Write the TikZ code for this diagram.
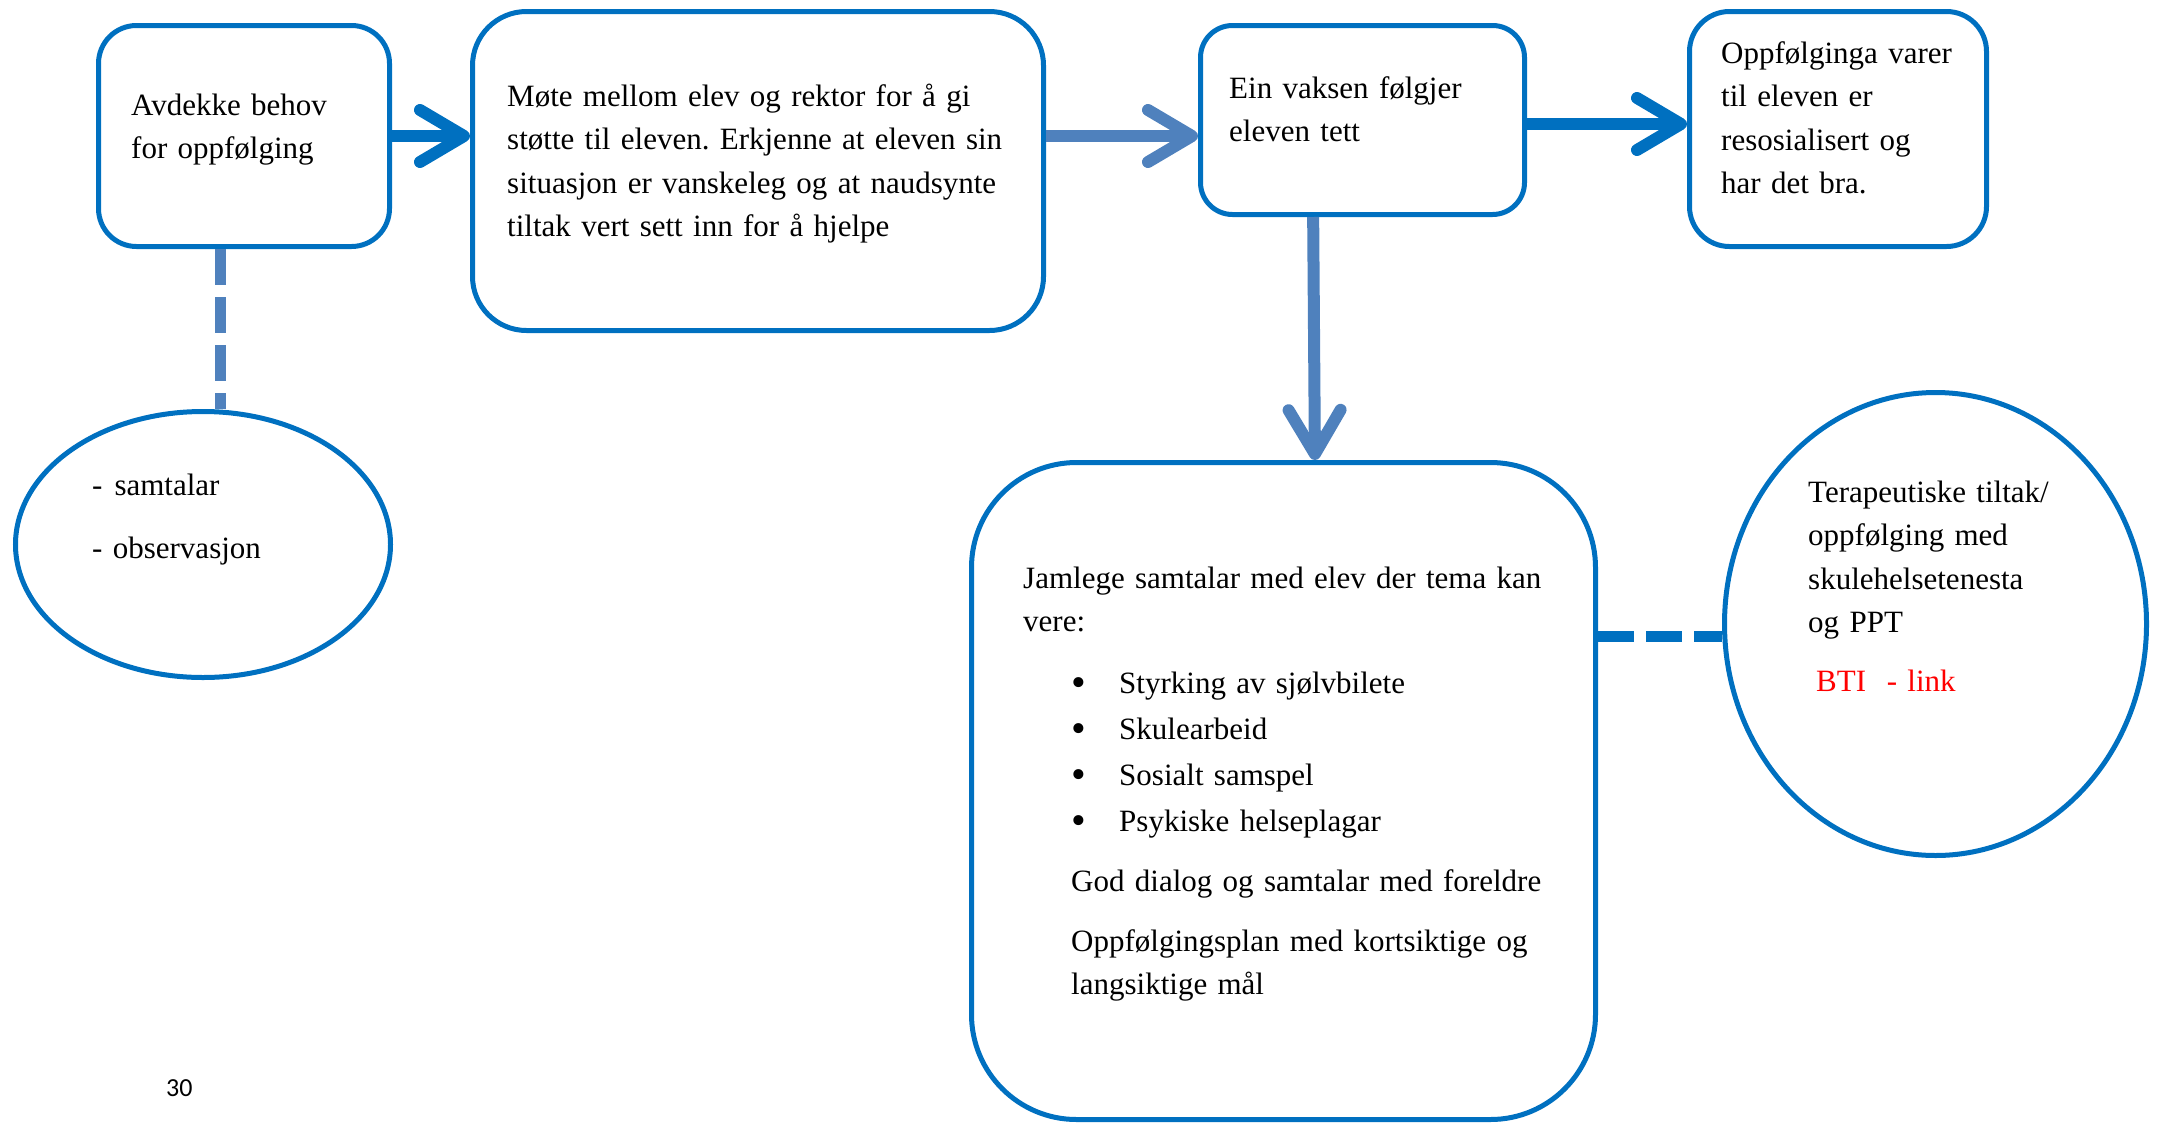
\documentclass[tikz,border=0pt]{standalone}
\usepackage{fontspec}
\setmainfont{Liberation Serif}
\newfontfamily\pagenofont{Carlito}
\usetikzlibrary{calc,shapes,arrows.meta}
\frenchspacing

\definecolor{darkblue}{HTML}{0070C0}
\definecolor{lightblue}{HTML}{4F81BD}

\newcommand{\topicbullet}{\makebox[48pt][l]{\raisebox{-3pt}{\fontsize{42}{42}\selectfont\textbullet}}}

\tikzset{
  box/.style={draw=darkblue, line width=5pt, rounded corners=#1},
  oval/.style={draw=darkblue, line width=5pt, ellipse},
  txt/.style={anchor=base west, inner sep=0pt, align=left, text width=#1,
    font=\fontsize{31}{43.5}\selectfont},
  chev/.style={line width=12pt, -{Straight Barb[length=44pt,width=52pt,round]}},
  dashline/.style={line width=11pt, dash pattern=on 36pt off 12pt}
}

\begin{document}
\begin{tikzpicture}[x=1pt,y=-1pt]
        \useasboundingbox (0,0) rectangle (2157,1122);
        % boxes
        \node[box=38pt, minimum width=291pt, minimum height=221pt] (need) at (244,136) {};
        \node[box=54pt, minimum width=571pt, minimum height=319pt] (meet) at (758,171) {};
        \node[box=32pt, minimum width=324pt, minimum height=189pt] (follow) at (1362.5,120) {};
        \node[box=40pt, minimum width=297pt, minimum height=235pt] (done) at (1838,129) {};
        \node[box=105pt, minimum width=624pt, minimum height=657pt] (talks) at (1283.5,791) {};
        \node[oval, minimum width=375pt, minimum height=266pt] (obs) at (203,544.5) {};
        \node[oval, minimum width=422pt, minimum height=463pt] (thera) at (1935.5,624) {};
        % texts
        \node[txt=280pt] (need-txt) at (131,115) {Avdekke behov\\ for oppfølging};
        \node[txt=540pt] (meet-txt) at (507,106) {Møte mellom elev og rektor for å gi\\
            støtte til eleven. Erkjenne at eleven sin\\
            situasjon er vanskeleg og at naudsynte\\
            tiltak vert sett inn for å hjelpe};
        \node[txt=300pt] (follow-txt) at (1229,98) {Ein vaksen følgjer\\ eleven tett};
        \node[txt=280pt] (done-txt) at (1721,63) {Oppfølginga varer\\ til eleven er\\
            resosialisert og\\ har det bra.};
        \node[txt=280pt] (obs-txt) at (92,495) {-\hspace{12pt}samtalar\\[19.5pt] - observasjon};
        \node[txt=580pt] (talks-txt) at (1023,588) {Jamlege samtalar med elev der tema kan\\ vere:};
        \node[txt=540pt] (topics-txt) at (1071,693) {%
            \topicbullet Styrking av sjølvbilete\\[2.5pt]
            \topicbullet Skulearbeid\\[2.5pt]
            \topicbullet Sosialt samspel\\[2.5pt]
            \topicbullet Psykiske helseplagar\\[16.5pt]
            God dialog og samtalar med foreldre\\[16.5pt]
            Oppfølgingsplan med kortsiktige og\\ langsiktige mål};
        \node[txt=320pt] (thera-txt) at (1808,502) {Terapeutiske tiltak/\\ oppfølging med\\
            skulehelsetenesta\\ og PPT\\[15.5pt]
            \hspace{8pt}{\color{red}BTI\ \ - link}};
        \node[anchor=base west, inner sep=0pt, font=\pagenofont\fontsize{26}{30}\selectfont]
            (pageno) at (166,1096) {30};
        % connectors
        \draw[chev, darkblue] (need.east) -- (need.east -| meet.west);
        \draw[chev, lightblue] (need.east -| meet.east) -- (need.east -| follow.west);
        \draw[chev, darkblue] ([yshift=-4pt]follow.east) -- ([yshift=-4pt]follow.east -| done.west);
        \draw[chev, lightblue] ($(follow.south west)!0.35!(follow.south east)$)
            -- ($(talks.north west)!0.55!(talks.north east)$);
        \draw[dashline, lightblue] ($(need.south west)!0.42!(need.south east)$) coordinate (d)
            -- (d |- obs.north);
        \draw[dashline, darkblue] ([yshift=-12pt]thera.west -| talks.east) -- ([yshift=-12pt]thera.west);
\end{tikzpicture}
\end{document}
